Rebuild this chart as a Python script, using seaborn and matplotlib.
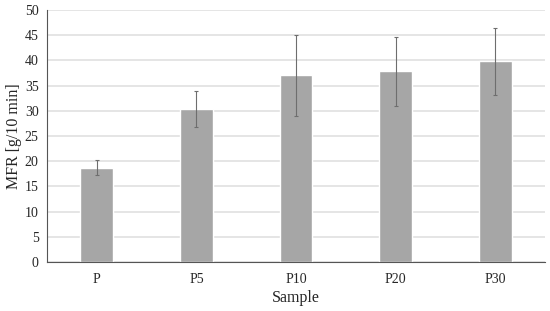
import numpy as np
import pandas as pd
import matplotlib
matplotlib.use("Agg")
import matplotlib.pyplot as plt
import seaborn as sns

# MFR values
samples = ["P", "P5", "P10", "P20", "P30"]
mfr = [18.7, 30.3, 37.0, 37.8, 39.8]
mfr_err = [1.5, 3.6, 8.0, 6.8, 6.6]

df = pd.DataFrame({"Sample": samples, "MFR": mfr, "err": mfr_err})

sns.set_style("white")
plt.rcParams['font.family'] = ['Liberation Serif', 'DejaVu Serif']

fig = plt.figure(figsize=(5.5, 3.11), dpi=100)
ax = fig.add_axes([0.0855, 0.1576, 0.9055, 0.8104])

sns.barplot(data=df, x="Sample", y="MFR", color="#a6a6a6", saturation=1,
            width=0.33, errorbar=None, ax=ax, zorder=2)
ax.errorbar(np.arange(len(samples)), df["MFR"], yerr=df["err"], fmt="none",
            ecolor="#6e6e6e", elinewidth=0.8, capsize=1.5, capthick=0.8, zorder=3)

ax.set_xlim(-0.5, len(samples) - 0.5)
ax.set_ylim(0, 50)
ax.set_yticks(np.arange(0, 51, 5))
ax.yaxis.grid(True, color="#e0e0e0", linewidth=1.2, zorder=0)
ax.set_axisbelow(True)

# category ticks at boundaries, labels centred
ax.set_xticks(np.arange(len(samples)))
ax.set_xticklabels(samples)
ax.tick_params(axis="x", which="major", length=0, pad=8, labelsize=10)
ax.set_xticks(np.arange(-0.5, len(samples)), minor=True)
ax.tick_params(axis="x", which="minor", length=4, width=0.8, color="#555555", direction="out")
ax.tick_params(axis="y", length=4, width=0.8, color="#555555", direction="out", pad=2, labelsize=10)

for s in ["top", "right"]:
    ax.spines[s].set_visible(False)
for s in ["left", "bottom"]:
    ax.spines[s].set_color("#555555")
    ax.spines[s].set_linewidth(0.8)

ax.set_xlabel("Sample", fontsize=11.5, labelpad=3)
ax.set_ylabel("MFR [g/10 min]", fontsize=11.5, labelpad=2)

fig.savefig("out.png", dpi=100)
